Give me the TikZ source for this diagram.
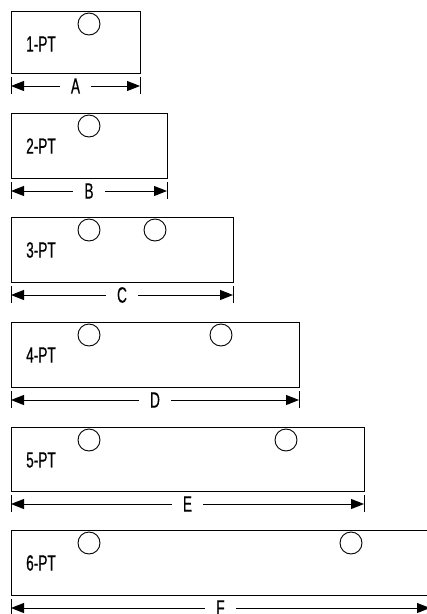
\documentclass[tikz,border=0pt]{standalone}
\usepackage{fontspec}
\setmainfont{Liberation Sans}[FakeStretch=0.62,FakeBold=0.5]
\usetikzlibrary{arrows.meta}
\usetikzlibrary{positioning}

\begin{document}
\begin{tikzpicture}[x=1pt, y=-1pt,
		plate/.style={draw, line width=1pt, inner sep=0pt, anchor=north west},
		hole/.style={circle, draw, line width=0.9pt, minimum size=22pt, inner sep=0pt},
		tag/.style={font=\fontsize{22}{24}\selectfont, inner sep=0pt},
		dim/.style={line width=1pt, {Triangle[length=13pt,width=10pt]}-{Triangle[length=13pt,width=10pt]}},
		tick/.style={line width=1pt}]
	\useasboundingbox (0,0) rectangle (427,614);
	% one plate per row, with its first hole, its name and its width
	\foreach \n/\top/\bot/\rgt/\dl in {1/11/73/140/A, 2/113/178/167/B, 3/217/282/233/C,
			4/322/387/299/D, 5/427/491/364/E, 6/530/595/430/F}{
		\pgfmathsetmacro{\w}{\rgt-11}
		\pgfmathsetmacro{\h}{\bot-\top}
		\node[plate, minimum width=\w pt, minimum height=\h pt] (P-\n) at (11,\top) {};
		\node[hole] (H-\n-1) at (89,\top+13) {};
		\node[tag] (T-\n) at (41,\top+33) {\n-PT};
		\coordinate (DL-\n) at (11,\bot+13);
		\coordinate (DR-\n) at (\rgt,\bot+13);
		\draw[tick] ([yshift=9pt]DL-\n) -- ([yshift=-8pt]DL-\n);
		\draw[tick] ([yshift=9pt]DR-\n) -- ([yshift=-8pt]DR-\n);
		\draw[dim] (DL-\n) -- node[tag, fill=white, inner xsep=11pt, inner ysep=2pt] (W-\n) {\dl} (DR-\n);
	}
	% second hole on the longer plates
	\foreach \n/\d in {3/66, 4/132, 5/197, 6/262}{
		\node[hole] (H-\n-2) at ([xshift=\d pt]H-\n-1) {};
	}
\end{tikzpicture}
\end{document}
